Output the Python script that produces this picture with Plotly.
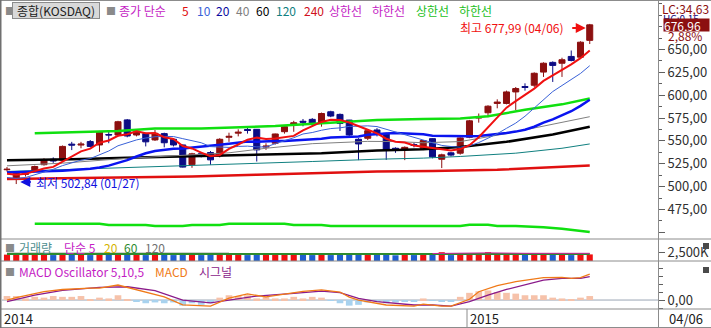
import plotly.graph_objects as go
import pandas as pd

# ---------------- data (weekly KOSDAQ) ----------------
weeks = pd.date_range("2014-01-20", periods=64, freq="W-MON")

opens = [518.5, 509.5, 513.5, 517.5, 524, 530, 529, 546.5, 545.5, 549.3,
         545.6, 557, 556.5, 573, 556.5, 558, 551.1, 558, 551.8, 545.6,
         524, 536, 537.3, 533.7, 554, 558.5, 562.5, 562.7, 543.3, 547.5,
         560.1, 567.4, 571.5, 573.6, 569.9, 581.9, 579, 572.8, 551.8, 552.9,
         562, 558.3, 542, 541, 546, 541.5, 552.5, 530, 537, 536.6,
         554, 575, 580.8, 591, 591, 603.6, 609.5, 610.9, 625.3, 635.9,
         635, 642.4, 641.6, 660]
highs = [521.5, 516, 516, 523, 531, 532, 545, 549, 549, 551,
         561, 560, 572, 574, 562, 559, 562, 559, 553, 546,
         537, 538, 539, 553, 559, 562.7, 565.6, 563, 547.5, 558,
         567, 572, 574, 575, 581, 583, 580, 573, 553, 563,
         564, 559, 543, 544, 548, 551, 553, 536, 538, 554,
         573, 580, 589, 595.5, 605, 609, 613, 625, 636, 637,
         641, 648.9, 659, 677.99]
lows = [516.5, 502.84, 511, 516, 523, 526, 528, 540, 542, 543,
        538, 547.5, 555, 554, 555, 544, 550, 543, 544, 521,
        520.6, 532, 523.9, 532, 549, 555, 558, 527.5, 540.2, 546,
        558, 560, 566, 566, 565.6, 576, 560.9, 555, 529, 551,
        555, 529.3, 537, 529, 543, 540, 531, 520.3, 533, 535,
        553, 570, 576, 585.7, 590, 583.7, 605, 609, 620, 614.5,
        620, 637, 640, 656]
closes = [519, 515, 514, 522, 529, 528, 544, 545.5, 546.5, 544,
          560, 556.5, 571, 555.4, 560, 549, 558.3, 548, 545.6, 521.4,
          535.9, 535, 529.3, 551.8, 555, 559.5, 561.5, 540.2, 544.3, 557.6,
          565.6, 569.9, 570.5, 568.2, 580, 577.2, 569.2, 556.5, 546.7, 561.2,
          557.5, 540, 540, 543, 545, 550.4, 532.6, 534.8, 534.5, 553.3,
          572, 576, 588, 592.5, 603.6, 607.3, 608.5, 624, 635, 632.6,
          638.8, 638, 658, 676.96]

ma5 = [514, 513, 514, 517, 519.8, 521.6, 527.4, 533.7, 538.6, 541.6,
       548, 550.5, 555.6, 557.4, 560.6, 558.4, 558.7, 554.1, 552.2, 544.5,
       541.8, 537.2, 533.4, 534.7, 541.4, 546.1, 551.4, 553.6, 552.1, 552.6,
       553.8, 555.5, 561.6, 566.4, 570.8, 573.2, 573, 570.2, 565.9, 562.2,
       558.2, 552.4, 549.1, 548.3, 545.1, 543.7, 542.2, 541.2, 539.5, 541.1,
       545.4, 554.1, 564.8, 576.4, 586.4, 593.5, 600, 607.2, 615.7, 621.5,
       627.8, 633.7, 640.5, 648.9]
ma10 = [510, 509, 510, 513, 516, 519, 523, 526, 529, 530.7,
        534.8, 539, 544.7, 548, 551.1, 553.2, 554.6, 554.9, 554.8, 552.5,
        550.1, 548, 543.8, 543.4, 542.9, 544, 544.3, 543.5, 543.4, 547,
        550, 553.5, 557.6, 559.2, 561.7, 563.5, 564.3, 565.9, 566.1, 566.5,
        565.7, 562.7, 559.7, 557.1, 553.6, 551, 547.3, 545.1, 543.9, 543.1,
        544.6, 548.2, 553, 557.9, 563.8, 569.5, 577, 586, 596, 604,
        610.6, 616.8, 623.8, 632.3]
ma20 = [515.5, 515.7, 515.8, 516, 516.5, 517, 517.5, 518, 518.7, 519.5,
        521, 523, 526, 529, 533, 536.5, 539, 540.5, 541.5, 541.6,
        542.5, 543.5, 544.2, 545.7, 547, 548.6, 549.5, 549.2, 549.1, 549.8,
        550, 550.7, 550.7, 551.3, 552.3, 553.7, 554.3, 554.7, 554.8, 556.8,
        557.8, 558.1, 558.6, 558.2, 557.7, 557.2, 555.8, 555.5, 555, 554.8,
        555.1, 555.4, 556.3, 557.5, 558.7, 560.2, 562.2, 565.5, 570, 573.5,
        577.6, 582.5, 588.4, 595.1]

ma40_at = [0, 6, 13, 20, 24, 28, 33, 39, 42, 45, 49, 54, 60, 63]
ma40 = [522.8, 525.7, 531, 534.5, 537, 542, 547, 549.5, 549.3, 548, 549.3, 558, 570, 576.5]
ma60_at = [0, 7, 14, 21, 28, 34, 40, 45, 49, 54, 59, 63]
ma60 = [529, 530, 532, 533.5, 534.5, 536.6, 539.5, 541, 543.5, 549, 557, 565.6]
ma120_at = [0, 6, 14, 21, 26, 33, 40, 45, 49, 55, 60, 63]
ma120 = [516.6, 518.5, 521.4, 523, 525, 527.5, 530, 531.2, 533, 536.6, 542, 546.7]
ma240_at = [0, 10, 20, 27, 33, 40, 46, 53, 63]
ma240 = [508.3, 509.5, 511, 513, 514.9, 516.5, 517, 518.5, 523]
upper_at = [3, 8, 12, 16, 21, 29, 37, 40, 45, 49, 52, 56, 60, 63]
upper = [558.3, 560, 561, 563.7, 563.7, 566.3, 571, 572.8, 574, 574.6, 577, 584, 590, 596.4]
lower_at = [3, 10, 11, 15, 16, 19, 20, 23, 24, 30, 31, 34, 35, 49, 50, 52, 53, 55, 58, 60, 63]
lower = [459.5, 459.5, 458, 458, 457, 457, 458, 458, 459.5, 459.5, 458, 458, 457, 457,
         458.3, 458.3, 457, 457, 455.5, 454, 450.4]

volume_k = [2390, 2400, 2380, 2395, 2390, 2370, 2400, 2375, 2385, 2370,
            2400, 2380, 2395, 2375, 2385, 2370, 2390, 2375, 2370, 2380,
            2390, 2370, 2375, 2400, 2390, 2385, 2370, 2380, 2385, 2390,
            2395, 2390, 2375, 2370, 2395, 2370, 2375, 2380, 2385, 2390,
            2375, 2380, 2360, 2390, 2370, 2400, 2380, 2500, 2370, 2400,
            2390, 2395, 2500, 2420, 2400, 2390, 2380, 2400, 2410, 2380,
            2390, 2370, 2395, 2400]
vma60_at = [0, 63]
vma60 = [2418, 2418]
vma120_at = [0, 24]
vma120 = [2460, 2460]
vma5_at = [46, 52, 56, 63]
vma5 = [2440, 2470, 2450, 2450]

macd_osc = [2.5, 2.5, 1, 2, 1.5, 2.5, 2, 2, 2.5, 0.5,
            1.5, 1, 3, 0.5, -1, -2, -1.5, -2, -1.5, -3.5,
            -2, -3, -2, 1.5, 3, 2.5, 3, 1, 2, 1,
            1, 2, 1, 2, 1.5, -0.5, -2, -3.5, -3, -1.5,
            -1, -2, -1.5, -1, -1, 1, -0.5, -1, -1, 2,
            4.5, 5.5, 6, 5, 4.5, 4, 3, 3, 3, 1.5,
            1, 0.5, 1.5, 2.5]
macd_at = [0, 1, 4, 6, 9, 10, 12, 13, 15, 17, 19, 20, 22, 24, 26, 28, 30, 32, 34, 36,
           37, 38, 41, 44, 45, 47, 48, 50, 51, 53, 55, 58, 60, 61, 62, 63]
macd = [0, 1.5, 5.2, 6.6, 7.5, 7.5, 9.4, 7.9, 5, 2, -3, -3.2, -3.8, 1.2, 3.8, 2, 3.8, 5.4, 6.3, 5,
        1.8, 0, -3.1, -3.8, -2.5, -3.8, -3.8, 0.5, 5.2, 9, 11.5, 14, 14.2, 13.6, 14, 16.2]
signal_at = [0, 3, 6, 10, 13, 15, 16, 19, 22, 24, 27, 31, 34, 36, 38, 40, 44, 46, 48, 50,
             52, 54, 56, 58, 60, 62, 63]
signal = [-1, 3.1, 6, 7.9, 8.3, 6.5, 5.9, 0, -1.8, 0, 2.5, 4.2, 5.6, 4.6, 1, -1, -3.1, -3.1, -3.75, -1,
          3.1, 6.6, 9.4, 12.5, 13.5, 13.5, 14.6]

price_ticks = [450, 475, 500, 525, 550, 575, 600, 625, 650]
price_tick_text = ["", "475,00", "500,00", "525,00", "550,00", "575,00", "600,00", "625,00", "650,00"]

# ---------------- helpers (layout only) ----------------
W, H = 711, 328
ML, MR = 2, 53
PW = W - ML - MR
WEEK = pd.Timedelta(days=7)
WEEK_MS = 7 * 24 * 3600 * 1000
FONT = "Noto Sans CJK KR, Noto Sans, sans-serif"


def px(x):
    return (x - ML) / PW


def py(y):
    return 1 - y / H


def sel(at):
    return [weeks[i] for i in at]


UP, DN = "#8c1010", "#0c0c84"

fig = go.Figure()

# ---- MACD panel ----
fig.add_trace(go.Bar(x=weeks, y=macd_osc, yaxis="y3",
                     marker_color=["#f6c2aa" if v >= 0 else "#a8d2ee" for v in macd_osc],
                     marker_line_width=0, width=WEEK_MS * 0.72, hoverinfo="skip"))
fig.add_trace(go.Scatter(x=sel(signal_at), y=signal, yaxis="y3", mode="lines",
                         line=dict(color="#8a1a8a", width=1.3), hoverinfo="skip"))
fig.add_trace(go.Scatter(x=sel(macd_at), y=macd, yaxis="y3", mode="lines",
                         line=dict(color="#f07a18", width=1.3), hoverinfo="skip"))

# ---- volume panel ----
vcol = [("#f01010" if c >= o else "#1f5fd0") for o, c in zip(opens, closes)]
fig.add_trace(go.Bar(x=weeks, y=volume_k, yaxis="y2", marker_color=vcol,
                     marker_line_width=0, width=WEEK_MS * 0.66, hoverinfo="skip"))
fig.add_trace(go.Scatter(x=sel(vma120_at), y=vma120, yaxis="y2", mode="lines",
                         line=dict(color="#909090", width=1), hoverinfo="skip"))
fig.add_trace(go.Scatter(x=sel(vma60_at), y=vma60, yaxis="y2", mode="lines",
                         line=dict(color="#2e8b2e", width=2), hoverinfo="skip"))
fig.add_trace(go.Scatter(x=sel(vma5_at), y=vma5, yaxis="y2", mode="lines",
                         line=dict(color="#d020a0", width=1), hoverinfo="skip"))

# ---- main price panel ----
def line(xs, ys, color, width):
    fig.add_trace(go.Scatter(x=xs, y=ys, yaxis="y", mode="lines",
                             line=dict(color=color, width=width), hoverinfo="skip"))


line(sel(lower_at), lower, "#10e010", 2.5)
line(sel(upper_at), upper, "#10e010", 2.5)
line(sel(ma240_at), ma240, "#e01010", 2.5)
line(sel(ma120_at), ma120, "#108080", 1)
line(sel(ma60_at), ma60, "#000000", 2.5)
line(sel(ma40_at), ma40, "#808080", 1)
line(weeks, ma20, "#0a14f0", 2.5)
line(weeks, ma10, "#3a62d8", 1)
line(weeks, ma5, "#f01010", 2)

fig.add_trace(go.Candlestick(
    x=weeks, open=opens, high=highs, low=lows, close=closes, yaxis="y",
    increasing=dict(line=dict(color=UP, width=1), fillcolor=UP),
    decreasing=dict(line=dict(color=DN, width=1), fillcolor=DN),
    whiskerwidth=0, hoverinfo="skip"))

# ---------------- annotations ----------------
ann = []


def txt(x, y, s, color, size=12, xanchor="left", **kw):
    d = dict(x=px(x), y=py(y), xref="paper", yref="paper", text=s, showarrow=False,
             xanchor=xanchor, yanchor="middle", font=dict(family=FONT, size=size, color=color))
    d.update(kw)
    ann.append(d)


# header legend
txt(3, 10, "■", "#8a8a8a", size=10)
ann.append(dict(x=px(12), y=py(10.5), xref="paper", yref="paper", text="종합(KOSDAQ)",
                showarrow=False, xanchor="left", yanchor="middle", bgcolor="#d9d9d9",
                bordercolor="#8c8c8c", borderwidth=1, borderpad=0, width=86, height=15,
                font=dict(family=FONT, size=12, color="#202020")))
txt(104, 10, "■", "#8a8a8a", size=10)
for x0, s, c in [(117, "종가 단순", "#c41cc4"), (180, "5", "#e01010"), (195, "10", "#3a62d8"),
                 (214, "20", "#0a0aa0"), (234, "40", "#808080"), (254, "60", "#000000"),
                 (274, "120", "#108080"), (302, "240", "#d01020"), (327, "상한선", "#c41cc4"),
                 (370, "하한선", "#c41cc4"), (414, "상한선", "#22c022"), (457, "하한선", "#22c022")]:
    txt(x0, 10, s, c)

# volume panel title
txt(3, 247.5, "■", "#8a8a8a", size=10)
for x0, s, c in [(17, "거래량", "#4f8f8f"), (62, "단순 5", "#c41cc4"), (102, "20", "#d4b400"),
                 (122, "60", "#2e8b2e"), (143, "120", "#707070")]:
    txt(x0, 247.5, s, c)

# MACD panel title
txt(3, 271, "■", "#8a8a8a", size=10)
for x0, s, c in [(17, "MACD Oscillator 5,10,5", "#c41cc4"), (153, "MACD", "#f07a18"),
                 (197, "시그널", "#8a1a8a")]:
    txt(x0, 271, s, c)

# date row
txt(2, 318, "2014", "#202020", size=13)
txt(468, 318, "2015", "#202020", size=13)
txt(667, 318, "04/06", "#202020", size=13)

# right column info (HC line is mostly covered by the price box, as in the original)
txt(660, 8, "LC:34,63", "#8c1010", size=12)
txt(661, 18, "HC:0,15", "#0c0c84", size=10)
ann.append(dict(x=px(663), y=closes[-1], xref="paper", yref="y", text="676,96", showarrow=False,
                xanchor="left", yanchor="middle", bgcolor="#8c1010", borderpad=0, width=45,
                height=12, align="left", font=dict(family=FONT, size=12, color="#ffffff")))
txt(666, 36, "2,88%", "#8c1010", size=12)

# high / low markers
hi_i = highs.index(max(highs))
lo_i = lows.index(min(lows))
ann.append(dict(x=weeks[hi_i], y=highs[hi_i], xref="x", yref="y", text="", showarrow=True,
                ax=-19, ay=0, axref="pixel", ayref="pixel", arrowhead=2, arrowsize=1,
                arrowwidth=2, arrowcolor="#f01010", standoff=4, yshift=-4))
ann.append(dict(x=weeks[hi_i], y=highs[hi_i], xref="x", yref="y", text="최고 677,99 (04/06)",
                showarrow=False, xanchor="right", yanchor="middle", xshift=-24, yshift=-4,
                font=dict(family=FONT, size=12, color="#f01010")))
ann.append(dict(x=weeks[lo_i], y=lows[lo_i], xref="x", yref="y", text="", showarrow=True,
                ax=16, ay=0, axref="pixel", ayref="pixel", arrowhead=2, arrowsize=1,
                arrowwidth=2, arrowcolor="#1010e0", standoff=4, yshift=2))
ann.append(dict(x=weeks[lo_i], y=lows[lo_i], xref="x", yref="y", text="최저 502,84 (01/27)",
                showarrow=False, xanchor="left", yanchor="middle", xshift=18, yshift=2,
                font=dict(family=FONT, size=12, color="#1010e0")))

# ---------------- shapes: panel frame ----------------
shapes = []
GR = "#8c8c8c"


def hline(y, x0=0, x1=W, color=GR, width=1):
    shapes.append(dict(type="line", xref="paper", yref="paper", x0=px(x0), x1=px(x1),
                       y0=py(y), y1=py(y), line=dict(color=color, width=width)))


def vline(x, y0=0, y1=H, color=GR, width=1):
    shapes.append(dict(type="line", xref="paper", yref="paper", x0=px(x), x1=px(x),
                       y0=py(y0), y1=py(y1), line=dict(color=color, width=width)))


hline(0.5)
hline(239)
hline(261)
hline(309)
hline(327.5)
vline(0.5, color="#707070", width=2)
vline(658.5)
vline(467, 309, 328)
# MACD zero line
shapes.append(dict(type="line", xref="paper", yref="y3", x0=0, x1=1, y0=0, y1=0,
                   line=dict(color="#9aa6b4", width=1), layer="below"))
# panel close icons
for yy in (243, 267):
    shapes.append(dict(type="rect", xref="paper", yref="paper", x0=px(703), x1=px(709),
                       y0=py(yy), y1=py(yy + 6), fillcolor="#4a4a4a", line=dict(width=0)))

fig.update_layout(
    width=W, height=H, margin=dict(l=ML, r=MR, t=0, b=0),
    paper_bgcolor="white", plot_bgcolor="white", showlegend=False,
    boxgap=0.35, boxgroupgap=0,
    annotations=ann, shapes=shapes,
    xaxis=dict(type="date", range=[weeks[0] - 0.54 * WEEK, weeks[0] + 70.38 * WEEK],
               showticklabels=False, showgrid=False, zeroline=False, showline=False,
               ticks="", rangeslider=dict(visible=False), anchor="y3"),
    yaxis=dict(domain=[py(239), py(1)], range=[442.74, 703.05], side="right",
               tickvals=price_ticks, ticktext=price_tick_text, ticks="outside", ticklen=6,
               tickcolor="#606060", showgrid=False, zeroline=False, showline=False,
               minor=dict(ticks="outside", ticklen=3, dtick=12.5, tick0=0, tickcolor="#606060"),
               tickfont=dict(family=FONT, size=13, color="#303030"), anchor="x"),
    yaxis2=dict(domain=[py(261), py(239)], range=[2100, 3100], side="right",
                tickvals=[2500], ticktext=["2,500K"], ticks="outside", ticklen=6,
                tickcolor="#606060", showgrid=False, zeroline=False, showline=False,
                tickfont=dict(family=FONT, size=13, color="#303030"), anchor="x"),
    yaxis3=dict(domain=[py(309), py(261)], range=[-5.6, 24.4], side="right",
                tickvals=[0], ticktext=["0,00"], ticks="outside", ticklen=6,
                tickcolor="#606060", showgrid=False, zeroline=False, showline=False,
                minor=dict(ticks="outside", ticklen=4, dtick=5, tick0=0, tickcolor="#606060"),
                tickfont=dict(family=FONT, size=13, color="#303030"), anchor="x"),
)

fig.write_html("out.html")
